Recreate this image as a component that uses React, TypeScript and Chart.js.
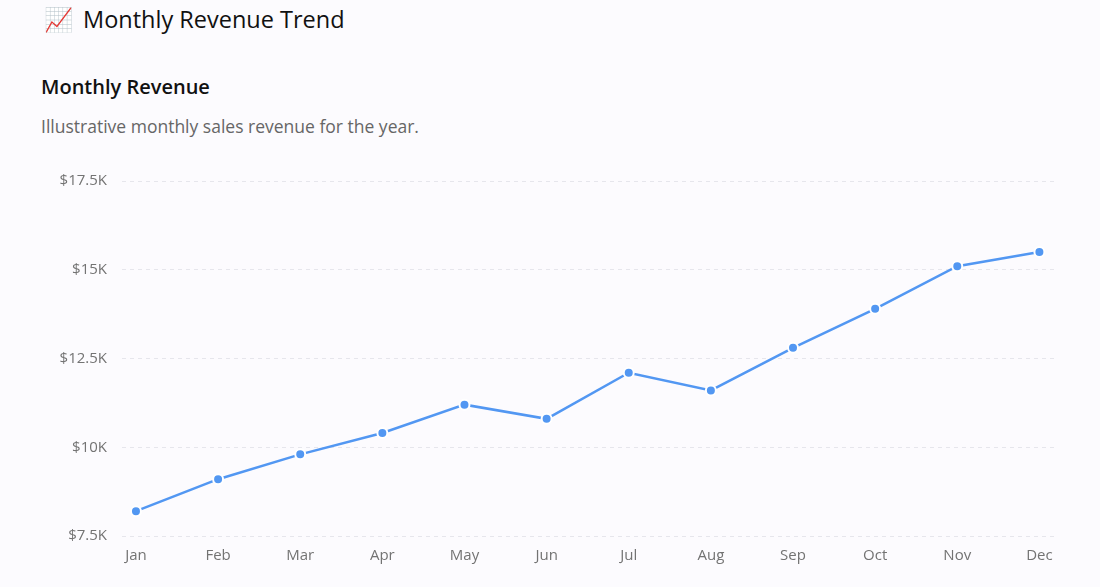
import { useEffect, useRef } from "react"
import { Chart, type ChartConfiguration, registerables } from "chart.js"

Chart.register(...registerables)

const months = ["Jan", "Feb", "Mar", "Apr", "May", "Jun", "Jul", "Aug", "Sep", "Oct", "Nov", "Dec"]
const revenue = [8200, 9100, 9800, 10400, 11200, 10800, 12100, 11600, 12800, 13900, 15100, 15500]
const yTicks = [7500, 10000, 12500, 15000, 17500]

const FONT = "'Open Sans', 'Noto Sans', sans-serif"

function formatK(v: number) {
  return "$" + (v / 1000).toString() + "K"
}

function RevenueChart() {
  const chartRef = useRef<HTMLCanvasElement>(null)
  const chartInstance = useRef<Chart | null>(null)

  useEffect(() => {
    if (!chartRef.current) return
    if (chartInstance.current) chartInstance.current.destroy()
    const ctx = chartRef.current.getContext("2d")
    if (!ctx) return

    const config: ChartConfiguration = {
      type: "line",
      data: {
        datasets: [
          {
            label: "Revenue",
            data: revenue.map((v, i) => ({ x: i, y: v })),
            borderColor: "#5297f2",
            backgroundColor: "#5297f2",
            borderWidth: 2.5,
            tension: 0,
            pointRadius: 5,
            pointBorderColor: "#ffffff",
            pointBorderWidth: 2,
            pointBackgroundColor: "#5297f2",
          },
        ],
      },
      options: {
        animation: false,
        responsive: true,
        maintainAspectRatio: false,
        layout: { padding: { right: 15, top: 0 } },
        plugins: {
          legend: { display: false },
          tooltip: { enabled: false },
        },
        scales: {
          x: {
            type: "linear",
            min: -0.17,
            max: 11.19,
            grid: { display: false },
            border: { display: false },
            afterBuildTicks: (scale) => {
              scale.ticks = months.map((_, i) => ({ value: i }))
            },
            ticks: {
              autoSkip: false,
              maxRotation: 0,
              padding: 3,
              color: "#737373",
              font: { family: FONT, size: 15 },
              callback: (v) => months[Number(v)] ?? "",
            },
          },
          y: {
            min: 7500,
            max: 17500,
            afterBuildTicks: (scale) => {
              scale.ticks = yTicks.map((v) => ({ value: v }))
            },
            afterFit: (scale) => {
              scale.width = 72
            },
            grid: {
              color: "#e6e6ec",
              lineWidth: 1,
              drawTicks: false,
            },
            border: { display: false, dash: [4, 4] },
            ticks: {
              padding: 15,
              color: "#737373",
              font: { family: FONT, size: 15 },
              callback: (v) => formatK(Number(v)),
            },
          },
        },
      },
    }

    chartInstance.current = new Chart(ctx, config)
    return () => {
      if (chartInstance.current) chartInstance.current.destroy()
    }
  }, [])

  return (
    <div style={{ position: "absolute", left: 50, top: 157, width: 1020, height: 411 }}>
      <canvas ref={chartRef} />
    </div>
  )
}

export default function App() {
  return (
    <div
      style={{
        position: "fixed",
        inset: 0,
        background: "#fcfbfe",
        fontFamily: FONT,
        overflow: "hidden",
      }}
    >
      <div style={{ position: "absolute", left: 44, top: 3, fontSize: 23.5, fontWeight: 500, color: "#111" }}>
        <span style={{ marginRight: 10 }}>📈</span>Monthly Revenue Trend
      </div>
      <div style={{ position: "absolute", left: 41, top: 73, fontSize: 20, fontWeight: 600, color: "#111" }}>
        Monthly Revenue
      </div>
      <div style={{ position: "absolute", left: 41, top: 114, fontSize: 17.5, color: "#666" }}>
        Illustrative monthly sales revenue for the year.
      </div>
      <RevenueChart />
    </div>
  )
}
